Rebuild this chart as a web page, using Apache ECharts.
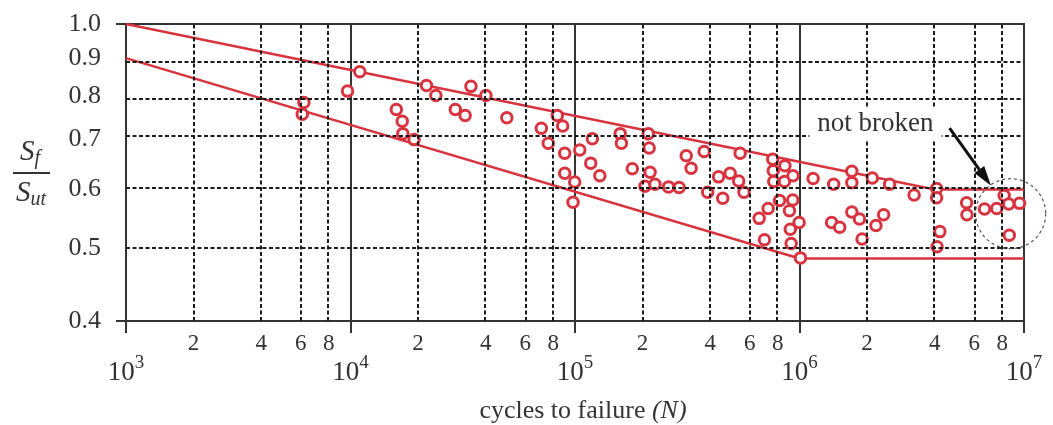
<!DOCTYPE html>
<html lang="en">

<head>
  <meta charset="UTF-8">
  <script src="https://cdn.jsdelivr.net/npm/echarts@6.0.0/dist/echarts.min.js"></script>
</head>

<body style="margin:0;background:#fff">
  <div id="snChart" style="width:1053px;height:425px;"></div>

  <script type="text/javascript">

    // test points: cycles to failure and Sf/Sut
    var cyclesN = [6200, 6100, 9700, 11000, 16000, 17000, 17100, 19200, 21800, 24000,
      29300, 32400, 34400, 40100, 49700, 70800, 76000, 83400, 88100, 90000,
      90000, 99700, 98000, 105000, 119500, 117500, 129000, 159000, 161000, 180000,
      212000, 214000, 216000, 205000, 227000, 261000, 291000, 313000, 329000, 376000,
      390000, 436000, 455000, 491000, 536000, 544000, 566000, 661000, 725000, 698000,
      815000, 760000, 764000, 768000, 861000, 857000, 936000, 933000, 902000, 996000,
      910000, 918000, 1010000, 1150000, 1420000, 1710000, 1710000, 2110000, 2520000, 1390000,
      1510000, 1710000, 1850000, 1900000, 2190000, 2370000, 3240000, 4080000, 4080000, 4220000,
      4100000, 5550000, 5570000, 6670000, 7560000, 8160000, 8550000, 9550000, 8600000];
    var strengthRatio = [0.785, 0.757, 0.813, 0.863, 0.768, 0.741, 0.713, 0.700, 0.827, 0.802,
      0.768, 0.754, 0.825, 0.802, 0.749, 0.725, 0.692, 0.754, 0.730, 0.671,
      0.631, 0.614, 0.577, 0.678, 0.702, 0.651, 0.626, 0.713, 0.692, 0.640,
      0.713, 0.682, 0.633, 0.606, 0.610, 0.605, 0.604, 0.666, 0.641, 0.675,
      0.595, 0.624, 0.584, 0.631, 0.616, 0.671, 0.595, 0.549, 0.566, 0.514,
      0.580, 0.659, 0.636, 0.615, 0.646, 0.615, 0.626, 0.581, 0.562, 0.542,
      0.531, 0.508, 0.486, 0.621, 0.610, 0.635, 0.613, 0.622, 0.610, 0.542,
      0.534, 0.560, 0.548, 0.515, 0.537, 0.555, 0.590, 0.602, 0.585, 0.527,
      0.503, 0.576, 0.555, 0.565, 0.566, 0.589, 0.574, 0.575, 0.521];

    // scatter band limits
    var upperN = [1e3, 4e6, 1e7];
    var upperS = [1.0, 0.6, 0.6];
    var lowerN = [1e3, 1e6, 1e7];
    var lowerS = [0.9, 0.485, 0.485];

    // ticks
    var yTicks = [0.4, 0.5, 0.6, 0.7, 0.8, 0.9, 1.0];
    var yGrid = [0.5, 0.6, 0.7, 0.8, 0.9];
    var decades = [3, 4, 5, 6];
    var minorMantissa = [2, 4, 6, 8];

    var serif = '"Liberation Serif", "DejaVu Serif", serif';
    var red = '#d8343f';
    var ink = '#333';

    var minorValues = [];
    decades.forEach(function (d) {
      minorMantissa.forEach(function (m) { minorValues.push(Math.log10(m * Math.pow(10, d))); });
    });

    function toLog(ns, ss) {
      return ns.map(function (n, i) { return [Math.log10(n), Math.log10(ss[i])]; });
    }

    var gridLines = minorValues.map(function (v) { return { xAxis: v }; })
      .concat(yGrid.map(function (v) { return { yAxis: Math.log10(v) }; }));

    var chart = echarts.init(document.getElementById('snChart'));

    var option = {
      animation: false,
      grid: {
        left: 126, right: 29, top: 24, bottom: 104,
        outerBoundsMode: 'none', containLabel: false,
        show: true, borderColor: ink, borderWidth: 2
      },
      xAxis: [
        {
          type: 'value', min: 3, max: 7, interval: 1, position: 'bottom',
          axisLine: { onZero: false, lineStyle: { color: ink, width: 2 } },
          axisTick: { length: 12, lineStyle: { color: ink, width: 2 } },
          splitLine: { show: true, lineStyle: { color: ink, width: 2, type: 'solid' } },
          axisLabel: {
            margin: 33,
            formatter: function (v) { return '{b|10}{sup|' + v + '}'; },
            rich: {
              b: { fontFamily: serif, fontSize: 27, color: ink, lineHeight: 32, verticalAlign: 'bottom' },
              sup: { fontFamily: serif, fontSize: 19, color: ink, lineHeight: 19, verticalAlign: 'top' }
            }
          },
          name: '{t|cycles to failure }{i|(N)}',
          nameLocation: 'middle',
          nameGap: 77,
          nameTextStyle: {
            padding: [0, 0, 0, 16],
            rich: {
              t: { fontFamily: serif, fontSize: 26, color: ink },
              i: { fontFamily: serif, fontSize: 26, color: ink, fontStyle: 'italic' }
            }
          }
        },
        {
          type: 'value', min: 3, max: 7, position: 'bottom',
          axisLine: { show: false, onZero: false },
          axisTick: { show: false },
          splitLine: { show: false },
          axisLabel: {
            customValues: minorValues,
            margin: 12,
            fontFamily: serif, fontSize: 23, color: ink, lineHeight: 22,
            formatter: function (v) {
              return String(Math.round(Math.pow(10, v - Math.floor(v + 1e-9))));
            }
          }
        }
      ],
      yAxis: {
        type: 'value', min: Math.log10(0.4), max: 0,
        axisLine: { show: true, onZero: false, lineStyle: { color: ink, width: 2 } },
        axisTick: { show: true, customValues: [Math.log10(0.4), 0], length: 10, lineStyle: { color: ink, width: 2 } },
        splitLine: { show: false },
        axisLabel: {
          customValues: yTicks.map(function (v) { return Math.log10(v); }),
          margin: 25,
          fontFamily: serif, fontSize: 26, color: ink,
          formatter: function (v) { return Math.pow(10, v).toFixed(1); }
        }
      },
      series: [
        {
          type: 'line', data: [], z: 1, silent: true,
          markLine: {
            silent: true, symbol: ['none', 'none'], animation: false,
            label: { show: false },
            lineStyle: { color: '#1a1a1a', width: 2, type: [4, 2.5] },
            emphasis: { disabled: true },
            data: gridLines
          }
        },
        {
          type: 'line', data: toLog(upperN, upperS), z: 2, showSymbol: false, silent: true,
          lineStyle: { color: red, width: 2.5 }
        },
        {
          type: 'line', data: toLog(lowerN, lowerS), z: 2, showSymbol: false, silent: true,
          lineStyle: { color: red, width: 2.5 }
        },
        {
          type: 'scatter', data: toLog(cyclesN, strengthRatio), z: 3,
          symbol: 'circle', symbolSize: 10.5,
          itemStyle: { color: '#fff', borderColor: red, borderWidth: 3, opacity: 1 }
        }
      ]
    };

    chart.setOption(option);

    // annotations placed from data coordinates
    function px(n, s) {
      return chart.convertToPixel({ gridIndex: 0 }, [Math.log10(n), Math.log10(s)]);
    }
    var textAt = px(2.18e6, 0.735);
    var arrowFrom = px(4.66e6, 0.725);
    var arrowTip = px(7.13e6, 0.607);
    var ringAt = px(8.72e6, 0.557);

    var dx = arrowTip[0] - arrowFrom[0], dy = arrowTip[1] - arrowFrom[1];
    var len = Math.sqrt(dx * dx + dy * dy);
    var ux = dx / len, uy = dy / len;
    var baseX = arrowTip[0] - ux * 20, baseY = arrowTip[1] - uy * 20;

    chart.setOption({
      graphic: [
        {
          type: 'text', x: textAt[0], y: textAt[1], z: 100,
          style: {
            text: 'not broken', fontFamily: serif, fontSize: 27, fill: ink,
            align: 'center', verticalAlign: 'middle',
            backgroundColor: '#fff', padding: [2, 8]
          }
        },
        {
          type: 'line', z: 100,
          shape: { x1: arrowFrom[0], y1: arrowFrom[1], x2: baseX, y2: baseY },
          style: { stroke: '#111', lineWidth: 3 }
        },
        {
          type: 'polygon', z: 100,
          shape: {
            points: [
              [arrowTip[0], arrowTip[1]],
              [baseX - uy * 6, baseY + ux * 6],
              [baseX + uy * 6, baseY - ux * 6]
            ]
          },
          style: { fill: '#111' }
        },
        {
          type: 'circle', z: 100,
          shape: { cx: ringAt[0], cy: ringAt[1], r: 35 },
          style: { fill: 'none', stroke: '#555', lineWidth: 1.2, lineDash: [3, 3] }
        },
        {
          type: 'text', x: 30, y: 152, z: 100,
          style: {
            text: '{s|S}{sub|f}', align: 'center', verticalAlign: 'middle', fill: ink,
            rich: {
              s: { fontFamily: serif, fontSize: 29, fontStyle: 'italic', fill: ink, lineHeight: 34 },
              sub: { fontFamily: serif, fontSize: 20, fontStyle: 'italic', fill: ink, lineHeight: 20, verticalAlign: 'bottom' }
            }
          }
        },
        {
          type: 'line', z: 100,
          shape: { x1: 13, y1: 173, x2: 50, y2: 173 },
          style: { stroke: ink, lineWidth: 2 }
        },
        {
          type: 'text', x: 31, y: 193, z: 100,
          style: {
            text: '{s|S}{sub|ut}', align: 'center', verticalAlign: 'middle', fill: ink,
            rich: {
              s: { fontFamily: serif, fontSize: 29, fontStyle: 'italic', fill: ink, lineHeight: 34 },
              sub: { fontFamily: serif, fontSize: 20, fontStyle: 'italic', fill: ink, lineHeight: 20, verticalAlign: 'bottom' }
            }
          }
        }
      ]
    });
  </script>
</body>

</html>
